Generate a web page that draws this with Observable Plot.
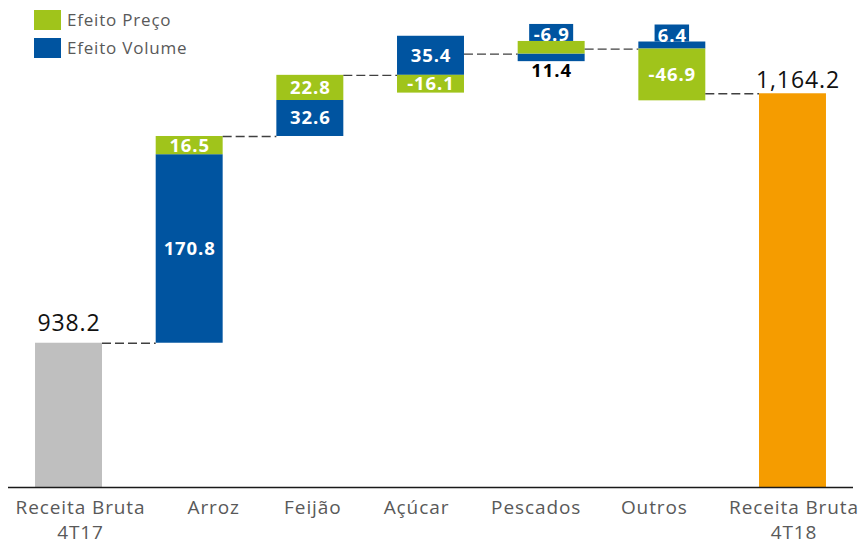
<!DOCTYPE html>
<html>
<head>
<meta charset="utf-8">
<script src="https://cdn.jsdelivr.net/npm/d3@7"></script>
<script src="https://cdn.jsdelivr.net/npm/@observablehq/plot@0.6"></script>
<style>
  body { margin: 0; background: #fff; }
  #wrap { position: relative; width: 859px; height: 545px; font-family: "Open Sans", sans-serif; }
  #chart svg text { letter-spacing: 0.9px; }
  #legend { position: absolute; left: 34px; top: 10px; color: #595959; font-size: 17px; letter-spacing: 0.8px; line-height: 20px; }
  #legend .row { display: flex; align-items: center; height: 20px; }
  #legend .row + .row { margin-top: 8px; }
  #legend .sw { width: 27px; height: 20px; margin-right: 6px; }
</style>
</head>
<body>
<div id="wrap">
  <div id="chart"></div>
  <div id="legend"></div>
</div>
<script>
// ---- data ----
const categories = ["Receita Bruta\n4T17", "Arroz", "Feijão", "Açúcar", "Pescados", "Outros", "Receita Bruta\n4T18"];
const effectCategories = ["Arroz", "Feijão", "Açúcar", "Pescados", "Outros"];
const volumeEffect = [170.8, 32.6, 35.4, -6.9, 6.4];   // Efeito Volume
const priceEffect  = [16.5, 22.8, -16.1, 11.4, -46.9]; // Efeito Preço
const totalNames = ["Receita Bruta 4T17", "Receita Bruta 4T18"];
const totalValues = [938.2, 1164.2];
const seriesNames = ["Efeito Preço", "Efeito Volume"];
const yDomain = [807.5, 1248.7];

// ---- layout / style ----
const W = 859, H = 545, mL = 8, mR = 6, mT = 0, mB = 58;
const pI = 0.445, pO = 0.224;
const step = (W - mL - mR) / (categories.length - pI + 2 * pO);
const bw = step * (1 - pI);
const k = (H - mT - mB) / (yDomain[1] - yDomain[0]);
const colors = {"Efeito Preço": "#A0C41B", "Efeito Volume": "#0054A0", "Receita Bruta 4T17": "#BFBFBF", "Receita Bruta 4T18": "#F59C00"};
const tickNudge = [11.5, 24, 2.5, -14.5, -15.5, -18, 1];
const fmt = v => v.toFixed(1);
const fmtTotal = v => d3.format(",.1f")(v);

// ---- waterfall geometry derived from the data ----
const totals = [
  {cat: categories[0], series: totalNames[0], value: totalValues[0]},
  {cat: categories[categories.length - 1], series: totalNames[1], value: totalValues[1]}
];
const segments = [];
const connectors = [];
let level = totalValues[0];
connectors.push({from: categories[0], to: categories[1], y: level});
effectCategories.forEach((c, i) => {
  const parts = [
    {series: "Efeito Volume", v: volumeEffect[i]},
    {series: "Efeito Preço", v: priceEffect[i]}
  ];
  let up = level, down = level;
  for (const p of parts) {
    if (p.v >= 0) { segments.push({cat: c, series: p.series, value: p.v, y1: up, y2: up + p.v}); up += p.v; }
    else { segments.push({cat: c, series: p.series, value: p.v, y1: down + p.v, y2: down}); down += p.v; }
  }
  level += parts[0].v + parts[1].v;
  connectors.push({from: c, to: categories[categories.indexOf(c) + 1], y: level});
});
const catTop = c => d3.max(segments.filter(s => s.cat === c), s => s.y2);
const catBottom = c => d3.min(segments.filter(s => s.cat === c), s => s.y1);
const fits = s => Math.abs(s.value) * k >= 14;
const inside = segments.filter(fits);
const aboveLabels = segments.filter(s => !fits(s) && s.series === "Efeito Volume").map(s => ({...s, top: catTop(s.cat)}));
const belowLabels = segments.filter(s => !fits(s) && s.series === "Efeito Preço").map(s => ({...s, bottom: catBottom(s.cat)}));

const marks = [
  Plot.barY(totals, {x: "cat", y1: () => yDomain[0], y2: "value", fill: "series"}),
  Plot.barY(segments, {x: "cat", y1: "y1", y2: "y2", fill: "series"}),
  Plot.ruleY(connectors, {x1: "from", x2: "to", y: "y", insetLeft: bw, insetRight: bw,
    stroke: "#404040", strokeWidth: 1.3, strokeDasharray: "9,4"}),
  // label boxes for small volume effects
  ...aboveLabels.map(d => {
    const boxW = 9.5 * fmt(d.value).length + 6;
    return Plot.barY([d], {x: "cat", y1: "top", y2: "top", insetTop: -17, insetBottom: 0,
      insetLeft: (bw - boxW) / 2, insetRight: (bw - boxW) / 2, fill: colors["Efeito Volume"]});
  }),
  Plot.text(aboveLabels, {x: "cat", y: "top", dy: -6, text: d => fmt(d.value), fill: "white",
    fontWeight: "bold", fontSize: 18.5}),
  Plot.text(belowLabels, {x: "cat", y: "bottom", dy: 2, lineAnchor: "top", text: d => fmt(d.value), fill: "black",
    fontWeight: "bold", fontSize: 18.5}),
  Plot.text(inside, {x: "cat", y: d => (d.y1 + d.y2) / 2, text: d => fmt(d.value), fill: "white",
    fontWeight: "bold", fontSize: 18.5}),
  // total labels
  Plot.text([totals[0]], {x: "cat", y: "value", dy: -12, lineAnchor: "bottom", text: d => fmtTotal(d.value),
    fill: "#111", fontSize: 23}),
  Plot.text([totals[1]], {x: "cat", y: "value", dx: 5, dy: -6, lineAnchor: "bottom", text: d => fmtTotal(d.value),
    fill: "#111", fontSize: 23}),
  // category labels
  ...categories.map((c, i) => Plot.text([c], {x: d => d, frameAnchor: "bottom", dy: 9, dx: tickNudge[i],
    lineAnchor: "top", lineHeight: 1.3, fontSize: 19, fill: "#595959"})),
  Plot.ruleY([yDomain[0]], {stroke: "#1a1a1a", strokeWidth: 1.5})
];

const chart = Plot.plot({
  width: W, height: H,
  marginLeft: mL, marginRight: mR, marginTop: mT, marginBottom: mB,
  style: {fontFamily: "'Open Sans', sans-serif", background: "white"},
  x: {domain: categories, paddingInner: pI, paddingOuter: pO, align: 0.5, round: false, axis: null},
  y: {domain: yDomain, axis: null},
  color: {domain: Object.keys(colors), range: Object.values(colors)},
  marks
});
document.getElementById("chart").appendChild(chart);

// legend
const legend = document.getElementById("legend");
seriesNames.forEach(n => {
  const row = document.createElement("div");
  row.className = "row";
  row.innerHTML = `<div class="sw" style="background:${colors[n]}"></div><span>${n}</span>`;
  legend.appendChild(row);
});
</script>
</body>
</html>
